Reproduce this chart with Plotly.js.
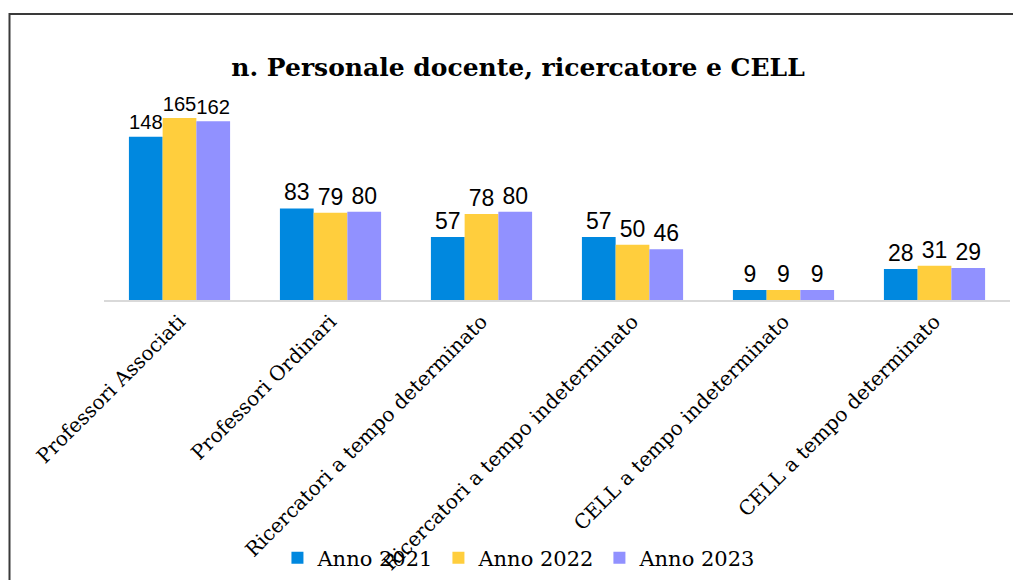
<!DOCTYPE html>
<html>
<head>
<meta charset="utf-8">
<script src="https://cdn.plot.ly/plotly-3.0.1.min.js"></script>
<style>html,body{margin:0;padding:0;background:#fff;}</style>
</head>
<body>
<div id="chart" style="width:1013px;height:580px;"></div>
<script>
const categories = ["Professori Associati", "Professori Ordinari", "Ricercatori a tempo determinato", "Ricercatori a tempo indeterminato", "CELL a tempo indeterminato", "CELL a tempo determinato"];
const anno2021 = [148, 83, 57, 57, 9, 28];
const anno2022 = [165, 79, 78, 50, 9, 31];
const anno2023 = [162, 80, 80, 46, 9, 29];
const seriesNames = ["Anno 2021", "Anno 2022", "Anno 2023"];
const colors = ["#0088DF", "#FFCE3D", "#9191FF"];

const series = [anno2021, anno2022, anno2023];
const traces = series.map((vals, i) => ({
  type: 'bar',
  x: categories,
  y: vals,
  name: seriesNames[i],
  marker: {color: colors[i]},
  text: vals.map(String),
  textposition: 'outside',
  textfont: {family: 'Liberation Sans, Arial, sans-serif', size: 23, color: '#000'},
  cliponaxis: false,
  hoverinfo: 'none'
}));

const layout = {
  width: 1013, height: 580,
  margin: {l: 104, r: 3, t: 100, b: 280, autoexpand: false},
  paper_bgcolor: '#fff', plot_bgcolor: '#fff',
  title: {text: '<b>n. Personale docente, ricercatore e CELL</b>', x: 518/1013, xanchor: 'center', y: 1 - 67/580, yanchor: 'middle', font: {family: 'DejaVu Serif, serif', size: 25, color: '#000'}},
  barmode: 'group', bargap: 0.33, bargroupgap: 0,
  showlegend: true,
  legend: {orientation: 'h', x: 0.458, xanchor: 'center', y: -1.29, yanchor: 'middle', bgcolor: 'rgba(0,0,0,0)', font: {family: 'DejaVu Serif, serif', size: 21, color: '#000'}, traceorder: 'normal'},
  xaxis: {tickangle: -45, automargin: false, showline: true, linecolor: '#d9d9d9', linewidth: 2, ticks: '', tickfont: {family: 'DejaVu Serif, serif', size: 20, color: '#000'}, showgrid: false, zeroline: false},
  yaxis: {range: [0, 181.3], visible: false, showgrid: false, zeroline: false, automargin: false},
  shapes: [{type: 'rect', xref: 'paper', yref: 'paper', x0: (9.5-104)/906, x1: (1016-104)/906, y0: (300-590)/200, y1: (300-14)/200, line: {color: '#3a3a3a', width: 2}, fillcolor: 'rgba(0,0,0,0)', layer: 'below'}]
};

Plotly.newPlot('chart', traces, layout, {displayModeBar: false, staticPlot: true});
</script>
</body>
</html>
